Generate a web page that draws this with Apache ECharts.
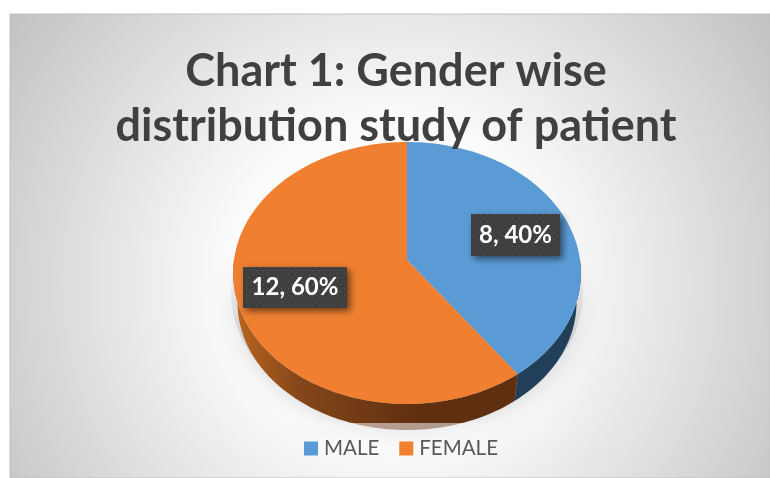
<!DOCTYPE html>
<html>
<head>
<meta charset="utf-8">
<script src="https://cdn.jsdelivr.net/npm/echarts@6/dist/echarts.min.js"></script>
<style>
  html, body { margin: 0; padding: 0; background: #fff; }
  #main { width: 770px; height: 478px; }
</style>
</head>
<body>
<div id="main"></div>
<script>
const categories = ['MALE', 'FEMALE']
const values = [8, 12]
const percents = [40, 60]
const colors = ['#5b9bd5', '#f07f30']

// 3d look of the pie: perspective squashed circle
const vertex = { x: 407, y: 260 }
const rx = 173, ry = 129.7, persp = -0.0992
const wallScale = 0.975, wallDrop = 29.6
const labelCenters = [[515.5, 235], [295, 287.5]]
const labelSizes = [[89, 42], [104, 41]]
const wallFills = [
  '#223f59',
  {
    type: 'linear', x: 236, y: 0, x2: 420, y2: 0, global: true,
    colorStops: [
      { offset: 0, color: '#b9651f' },
      { offset: 0.35, color: '#84461a' },
      { offset: 1, color: '#5f2f10' },
    ],
  },
]

const total = values.reduce((a, b) => a + b, 0)

// deg is clockwise from 12 o'clock
function project(deg, scale, drop) {
  const rad = deg * Math.PI / 180
  const u = Math.sin(rad), v = -Math.cos(rad)
  const d = 1 + persp * v
  return [vertex.x + rx * u / d * scale, vertex.y + ry * v / d * scale + drop]
}

function arcPoints(from, to, scale, drop) {
  const pts = []
  const n = Math.max(2, Math.ceil(Math.abs(to - from) / 1.5))
  for (let i = 0; i <= n; i++) {
    pts.push(project(from + (to - from) * i / n, scale, drop))
  }
  return pts
}

function dotPattern() {
  const c = document.createElement('canvas')
  c.width = 7
  c.height = 7
  const g = c.getContext('2d')
  g.fillStyle = '#3f3f3f'
  g.fillRect(0, 0, 7, 7)
  g.fillStyle = '#5a5a5a'
  g.fillRect(1, 1, 1, 1)
  g.fillRect(4, 4, 1, 1)
  return c
}
const pattern = { image: dotPattern(), repeat: 'repeat' }

function sliceRender(idx) {
  return function (params, api) {
    const before = values.slice(0, idx).reduce((a, b) => a + b, 0)
    const start = before / total * 360
    const end = start + api.value(0) / total * 360
    const children = []

    // side wall, only the front half shows
    const a = Math.max(start, 90), b = Math.min(end, 270)
    if (b > a) {
      children.push({
        type: 'polygon',
        shape: { points: arcPoints(a, b, 1, 0).concat(arcPoints(b, a, wallScale, wallDrop)) },
        style: { fill: wallFills[idx] },
      })
    }
    // top face
    children.push({
      type: 'polygon',
      shape: { points: [[vertex.x, vertex.y]].concat(arcPoints(start, end, 1, 0)) },
      style: { fill: api.visual('color') },
    })
    return { type: 'group', children: children }
  }
}

function labelRender(idx) {
  return function (params, api) {
    const c = labelCenters[idx], s = labelSizes[idx]
    return {
      type: 'group',
      children: [
        {
          type: 'rect',
          shape: { x: c[0] - s[0] / 2, y: c[1] - s[1] / 2, width: s[0], height: s[1] },
          style: {
            fill: pattern,
            shadowColor: 'rgba(0,0,0,0.55)', shadowBlur: 7, shadowOffsetX: 3, shadowOffsetY: 3,
          },
        },
        {
          type: 'text',
          style: {
            x: c[0], y: c[1],
            text: api.value(0) + ', ' + percents[idx] + '%',
            fill: '#fff',
            font: 'bold 24px Lato',
            align: 'center',
            verticalAlign: 'middle',
          },
        },
      ],
    }
  }
}

const series = categories.map((name, i) => ({
  name: name,
  type: 'custom',
  coordinateSystem: 'none',
  renderItem: sliceRender(i),
  itemStyle: { color: colors[i] },
  silent: true,
  z: 3,
  data: [[values[i]]],
}))
categories.forEach((name, i) => {
  series.push({
    name: name + '_label',
    type: 'custom',
    coordinateSystem: 'none',
    renderItem: labelRender(i),
    silent: true,
    z: 4,
    data: [[values[i]]],
  })
})

const chart = echarts.init(document.getElementById('main'), null, { renderer: 'canvas' })
chart.setOption({
  animation: false,
  backgroundColor: '#fff',
  title: {
    text: 'Chart 1: Gender wise\ndistribution study of patient',
    left: 391,
    top: 39,
    textAlign: 'center',
    textStyle: {
      fontFamily: 'Lato',
      fontWeight: 'bold',
      fontSize: 45,
      lineHeight: 55,
      color: '#404040',
    },
  },
  legend: {
    data: categories,
    left: 299,
    top: 433,
    icon: 'rect',
    itemWidth: 14,
    itemHeight: 14,
    itemGap: 20,
    selectedMode: false,
    textStyle: { fontFamily: 'Lato', fontSize: 20.5, color: '#595959', padding: [0, 0, 3, 1] },
  },
  graphic: [
    {
      type: 'rect',
      z: -10,
      shape: { x: 10, y: 14, width: 760, height: 464 },
      style: {
        fill: {
          type: 'radial', x: 0.5, y: 0.58, r: 1,
          colorStops: [
            { offset: 0, color: '#ffffff' },
            { offset: 0.35, color: '#fbfbfb' },
            { offset: 1, color: '#c2c2c2' },
          ],
        },
        stroke: '#c0c0c0',
        lineWidth: 1,
      },
    },
    {
      // soft shadow under the pie, fades out towards the top
      type: 'ellipse',
      z: -5,
      shape: { cx: 407, cy: 292, rx: 176, ry: 134 },
      style: {
        fill: {
          type: 'linear', x: 0, y: 0, x2: 0, y2: 1,
          colorStops: [
            { offset: 0.35, color: 'rgba(130,130,130,0)' },
            { offset: 0.75, color: 'rgba(130,130,130,0.3)' },
            { offset: 1, color: 'rgba(130,130,130,0.4)' },
          ],
        },
        shadowColor: 'rgba(0,0,0,0.5)',
        shadowBlur: 24,
      },
    },
    {
      // bottom edge of the pie fades where the shadow gets cut
      type: 'rect',
      z: 5,
      shape: { x: 240, y: 423, width: 340, height: 16 },
      style: {
        fill: {
          type: 'linear', x: 0, y: 0, x2: 1, y2: 0,
          colorStops: [
            { offset: 0, color: 'rgba(245,245,245,0)' },
            { offset: 0.2, color: 'rgba(245,245,245,0.55)' },
            { offset: 0.8, color: 'rgba(245,245,245,0.55)' },
            { offset: 1, color: 'rgba(245,245,245,0)' },
          ],
        },
      },
    },
  ],
  series: series,
})
</script>
</body>
</html>
